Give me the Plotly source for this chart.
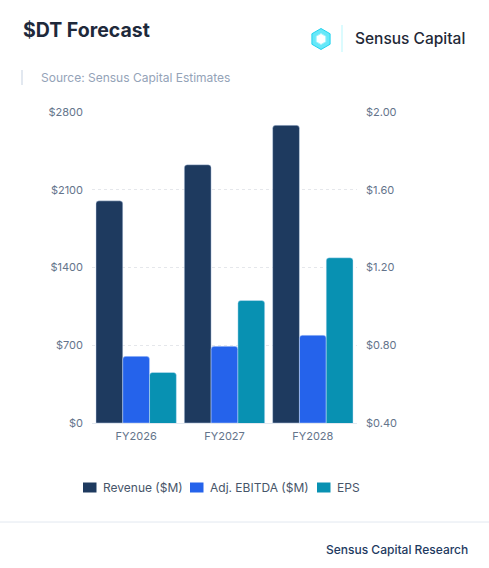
import plotly.graph_objects as go

# data
years = ["FY2026", "FY2027", "FY2028"]
revenue = [2000, 2325, 2680]
adj_ebitda = [600, 690, 790]
eps = [0.66, 1.03, 1.25]

series_names = ["Revenue ($M)", "Adj. EBITDA ($M)", "EPS"]

left_ticks = [0, 700, 1400, 2100, 2800]
left_labels = ["$0", "$700", "$1400", "$2100", "$2800"]
right_ticks = [0.40, 0.80, 1.20, 1.60, 2.00]
right_labels = ["$0.40", "$0.80", "$1.20", "$1.60", "$2.00"]

colors = ["#1e3a5f", "#2563eb", "#0891b2"]

W, H = 489, 568
L, R, T, B = 92, 132, 112, 145


def px(x):
    # pixel x -> paper x
    return (x - L) / (W - L - R)


def py(y):
    # pixel y (from top) -> paper y
    return (H - B - y) / (H - T - B)


fig = go.Figure()
fig.add_trace(go.Bar(x=years, y=revenue, name=series_names[0], marker_color=colors[0],
                     offsetgroup="1", yaxis="y"))
fig.add_trace(go.Bar(x=years, y=adj_ebitda, name=series_names[1], marker_color=colors[1],
                     offsetgroup="2", yaxis="y"))
fig.add_trace(go.Bar(x=years, y=eps, name=series_names[2], marker_color=colors[2],
                     offsetgroup="3", yaxis="y2"))
fig.update_traces(marker_line_color="rgba(219,234,254,0.7)", marker_line_width=0.6)

tick_font = dict(family="Inter", size=11, color="#64748b")

fig.update_layout(
    width=W, height=H,
    margin=dict(l=L, r=R, t=T, b=B),
    paper_bgcolor="white", plot_bgcolor="white",
    barmode="group", bargap=0.09, bargroupgap=0, barcornerradius=3,
    font=dict(family="Inter", color="#475569"),
    showlegend=False,
    xaxis=dict(showgrid=False, tickfont=tick_font, showline=True, linecolor="#e2e8f0",
               linewidth=1, ticks="", ticklabelstandoff=3),
    yaxis=dict(range=[0, 2800], tickvals=left_ticks, ticktext=left_labels, tickfont=tick_font,
               showgrid=True, gridcolor="#e5e7eb", griddash="3px,3px", gridwidth=1,
               zeroline=False, ticks="", ticklabelstandoff=8),
    yaxis2=dict(range=[0.4, 2.0], tickvals=right_ticks, ticktext=right_labels, tickfont=tick_font,
                overlaying="y", side="right", showgrid=False, zeroline=False,
                ticklabelstandoff=8),
)

# legend drawn by hand (plotly's own legend spaces items too wide)
legend_x = [83, 190, 317]
for name, col, lx in zip(series_names, colors, legend_x):
    fig.add_shape(type="rect", x0=px(lx), x1=px(lx + 13.5), y0=py(482.5), y1=py(492.5),
                  xref="paper", yref="paper", fillcolor=col, line=dict(width=0))
    fig.add_annotation(text=name, x=px(lx + 18), y=py(487.5), xref="paper", yref="paper",
                       xanchor="left", yanchor="middle", showarrow=False,
                       font=dict(family="Inter", size=12, color="#475569"))

# header
fig.add_annotation(text="<b>$DT Forecast</b>", x=px(21), y=py(30), xref="paper", yref="paper",
                   xanchor="left", yanchor="middle", showarrow=False,
                   font=dict(family="Inter", size=19.5, color="#1e293b"))
fig.add_annotation(text="Sensus Capital", x=px(353), y=py(39), xref="paper", yref="paper",
                   xanchor="left", yanchor="middle", showarrow=False,
                   font=dict(family="Inter", size=15.5, color="#1f2937", weight=500))
fig.add_annotation(text="Source: Sensus Capital Estimates", x=px(39), y=py(77), xref="paper",
                   yref="paper", xanchor="left", yanchor="middle", showarrow=False,
                   font=dict(family="Inter", size=12, color="#94a3b8"))
fig.add_annotation(text="Sensus Capital Research", x=px(470), y=py(549), xref="paper",
                   yref="paper", xanchor="right", yanchor="middle", showarrow=False,
                   font=dict(family="Inter", size=12, color="#1e3a5f", weight=500))

# logo: hexagon ring
cx, cy, r1, r2 = 321, 39, 10.5, 5.5


def hexpath(r):
    pts = [(0, -r), (0.866 * r, -0.5 * r), (0.866 * r, 0.5 * r), (0, r),
           (-0.866 * r, 0.5 * r), (-0.866 * r, -0.5 * r)]
    return "M " + " L ".join(f"{px(cx + dx)},{py(cy + dy)}" for dx, dy in pts) + " Z"


fig.add_shape(type="path", path=hexpath(r1), xref="paper", yref="paper",
              fillcolor="#67e8f9", line=dict(color="#22d3ee", width=1))
fig.add_shape(type="path", path=hexpath(r2), xref="paper", yref="paper",
              fillcolor="white", line=dict(color="#a5f3fc", width=1))
# separator next to logo
fig.add_shape(type="line", x0=px(342), x1=px(342), y0=py(25), y1=py(52), xref="paper",
              yref="paper", line=dict(color="#cffafe", width=1.5))
# source bar
fig.add_shape(type="line", x0=px(22), x1=px(22), y0=py(70), y1=py(85), xref="paper",
              yref="paper", line=dict(color="#e2e8f0", width=2))
# footer rule
fig.add_shape(type="line", x0=px(0), x1=px(W), y0=py(522), y1=py(522), xref="paper",
              yref="paper", line=dict(color="#e2e8f0", width=1))

fig.write_html("out.html", config={"displayModeBar": False},
               post_script="document.body.style.margin='0';document.body.style.overflow='hidden';")
